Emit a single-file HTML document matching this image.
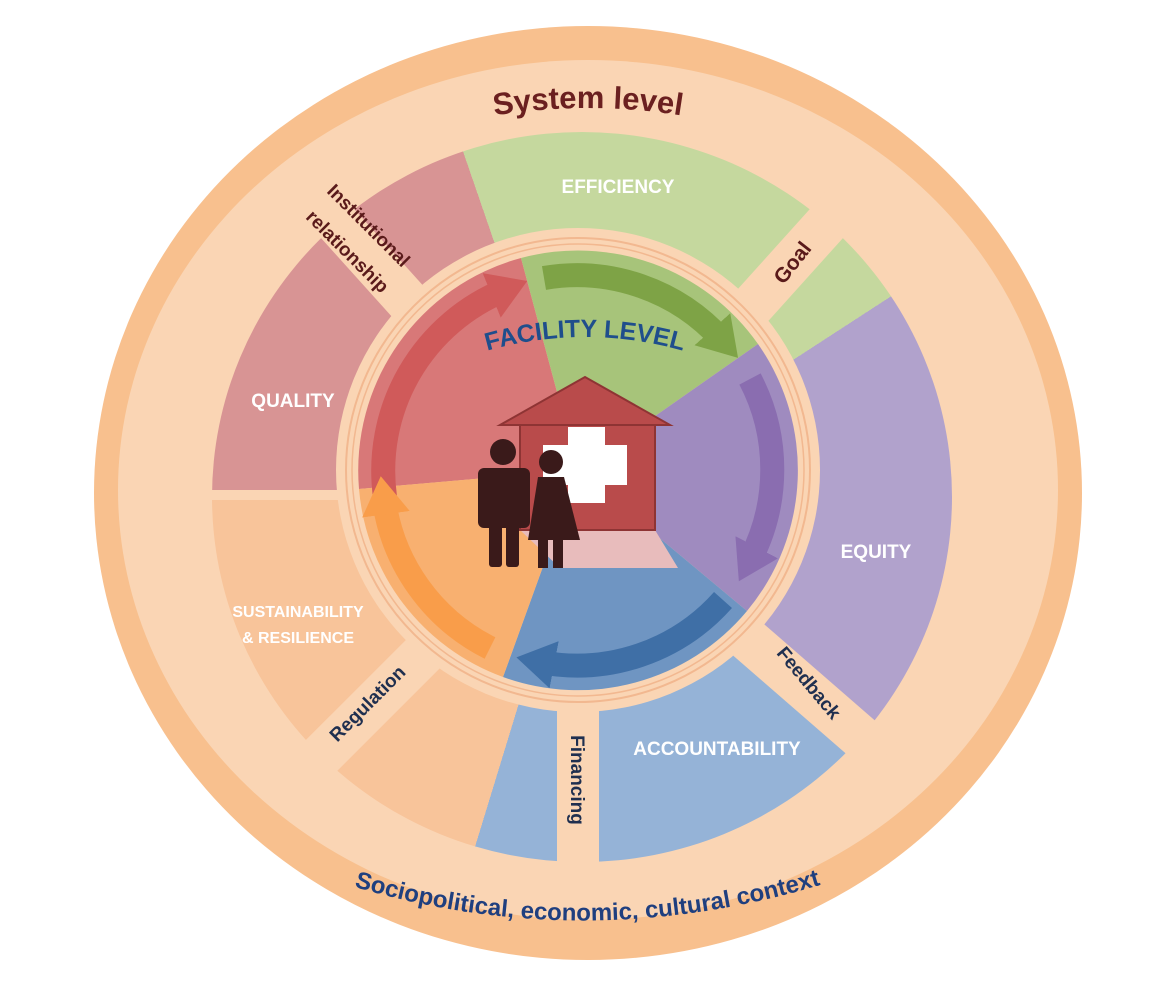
<!DOCTYPE html>
<html><head><meta charset="utf-8"><style>
html,body{margin:0;padding:0;background:#fff;width:1162px;height:986px;overflow:hidden;position:relative}
#pie{position:absolute;left:212px;top:132px;width:740px;height:730px;border-radius:50%;
background:conic-gradient(from -19deg,#c5d89e 0deg 76deg,#b1a2cc 76deg 149deg,#95b3d7 149deg 216deg,#f8c49a 216deg 289deg,#d89494 289deg 360deg);}
svg{position:absolute;left:0;top:0}
text{font-family:"Liberation Sans",sans-serif;font-weight:bold}
</style></head><body>
<svg width="1162" height="986" viewBox="0 0 1162 986">
<ellipse cx="588" cy="493" rx="494" ry="467" fill="#f8c08e"/>
<ellipse cx="588" cy="490" rx="470" ry="430" fill="#fad5b4"/>
</svg>
<div id="pie"></div>
<svg width="1162" height="986" viewBox="0 0 1162 986">
<defs>
<marker id="mr" markerWidth="2" markerHeight="2" refX="0.6" refY="1" orient="auto"><path d="M0,0 L1.6,1 L0,2z" fill="#d05a5a"/></marker>
<marker id="mg" markerWidth="2" markerHeight="2" refX="0.6" refY="1" orient="auto"><path d="M0,0 L1.6,1 L0,2z" fill="#7ea346"/></marker>
<marker id="mp" markerWidth="2" markerHeight="2" refX="0.6" refY="1" orient="auto"><path d="M0,0 L1.6,1 L0,2z" fill="#8a6db0"/></marker>
<marker id="mb" markerWidth="2" markerHeight="2" refX="0.6" refY="1" orient="auto"><path d="M0,0 L1.6,1 L0,2z" fill="#3f6fa6"/></marker>
<marker id="mo" markerWidth="2" markerHeight="2" refX="0.6" refY="1" orient="auto"><path d="M0,0 L1.6,1 L0,2z" fill="#f99d4a"/></marker>
<path id="sys" d="M 460 122 Q 588 94 716 122"/>
<path id="fac" d="M 470 356 Q 585 318 700 356"/>
<path id="soc" d="M 345 884 Q 585 958 830 882"/>
</defs>
<g fill="#fad5b4">
<rect x="-22" y="-400" width="44" height="200" transform="translate(582,495) rotate(42)"/>
<rect x="-22" y="-400" width="44" height="200" transform="translate(582,495) rotate(131)"/>
<rect x="-21" y="-400" width="42" height="200" transform="translate(578,495) rotate(180)"/>
<rect x="-22" y="-400" width="44" height="200" transform="translate(582,495) rotate(225)"/>
<rect x="-22" y="-400" width="44" height="200" transform="translate(582,495) rotate(318)"/>
<rect x="-5" y="-400" width="10" height="200" transform="translate(582,495) rotate(270)"/>
</g>
<circle cx="578" cy="470" r="242" fill="#fad5b4"/>
<circle cx="578" cy="470" r="232" fill="none" stroke="#f2b890" stroke-width="2"/>
<circle cx="578" cy="470" r="226" fill="none" stroke="#f2b890" stroke-width="1.5"/>
<g transform="translate(578,470)">
<path d="M0,0 L-219,19 A220,220 0 0 1 -57,-212 Z" fill="#d87878"/>
<path d="M0,0 L-57,-212 A220,220 0 0 1 180,-126 Z" fill="#a7c47a"/>
<path d="M0,0 L180,-126 A220,220 0 0 1 169,141 Z" fill="#9f8bbf"/>
<path d="M0,0 L169,141 A220,220 0 0 1 -75,207 Z" fill="#6f95c2"/>
<path d="M0,0 L-75,207 A220,220 0 0 1 -219,19 Z" fill="#f8b070"/>
</g>
<g fill="none" stroke-width="24">
<path d="M385 497 A195 195 0 0 1 505 290" stroke="#d05a5a" marker-end="url(#mr)"/>
<path d="M544 278 A195 195 0 0 1 722 340" stroke="#7ea346" marker-end="url(#mg)"/>
<path d="M750 379 A195 195 0 0 1 750 560" stroke="#8a6db0" marker-end="url(#mp)"/>
<path d="M723 600 A195 195 0 0 1 540 662" stroke="#3f6fa6" marker-end="url(#mb)"/>
<path d="M490 648 A195 195 0 0 1 384 500" stroke="#f99d4a" marker-end="url(#mo)"/>
</g>
<path d="M560 568 L520 530 L655 530 L678 568 Z" fill="#e8bcbc"/>
<rect x="520" y="420" width="135" height="110" fill="#b94b4b" stroke="#8e3434" stroke-width="2"/>
<path d="M500 425 L585 377 L670 425 Z" fill="#b94b4b" stroke="#8e3434" stroke-width="2"/>
<rect x="568" y="427" width="37" height="76" fill="#fff"/>
<rect x="543" y="445" width="84" height="40" fill="#fff"/>
<g fill="#3a1a1a">
<circle cx="503" cy="452" r="13"/>
<rect x="478" y="468" width="52" height="60" rx="6"/>
<rect x="489" y="520" width="13" height="47" rx="3"/>
<rect x="506" y="520" width="13" height="47" rx="3"/>
<circle cx="551" cy="462" r="12"/>
<path d="M538 477 L564 477 L580 540 L528 540 Z"/>
<rect x="538" y="538" width="10" height="30"/>
<rect x="553" y="538" width="10" height="30"/>
</g>
<text font-size="31" fill="#6b2020" text-anchor="middle"><textPath href="#sys" startOffset="50%">System level</textPath></text>
<text font-size="25" fill="#1f4e8c" text-anchor="middle"><textPath href="#fac" startOffset="50%">FACILITY LEVEL</textPath></text>
<text font-size="24" fill="#1f3f7f" text-anchor="middle"><textPath href="#soc" startOffset="50%">Sociopolitical, economic, cultural context</textPath></text>
<g fill="#fff" text-anchor="middle">
<text x="618" y="193" font-size="19">EFFICIENCY</text>
<text x="293" y="407" font-size="19">QUALITY</text>
<text x="876" y="558" font-size="19">EQUITY</text>
<text x="298" y="617" font-size="16">SUSTAINABILITY</text>
<text x="298" y="643" font-size="16">&amp; RESILIENCE</text>
<text x="717" y="755" font-size="19">ACCOUNTABILITY</text>
</g>
<g fill="#5a1a1a" font-size="19" text-anchor="middle">
<text transform="translate(364,230) rotate(45)">Institutional</text>
<text transform="translate(343,256) rotate(45)">relationship</text>
<text transform="translate(798,267) rotate(-52)" font-size="21">Goal</text>
</g>
<g fill="#1f2f4f" font-size="19" text-anchor="middle">
<text transform="translate(804,687) rotate(50)">Feedback</text>
<text transform="translate(571,780) rotate(90)">Financing</text>
<text transform="translate(372,708) rotate(-45)">Regulation</text>
</g>
</svg>
</body></html>
